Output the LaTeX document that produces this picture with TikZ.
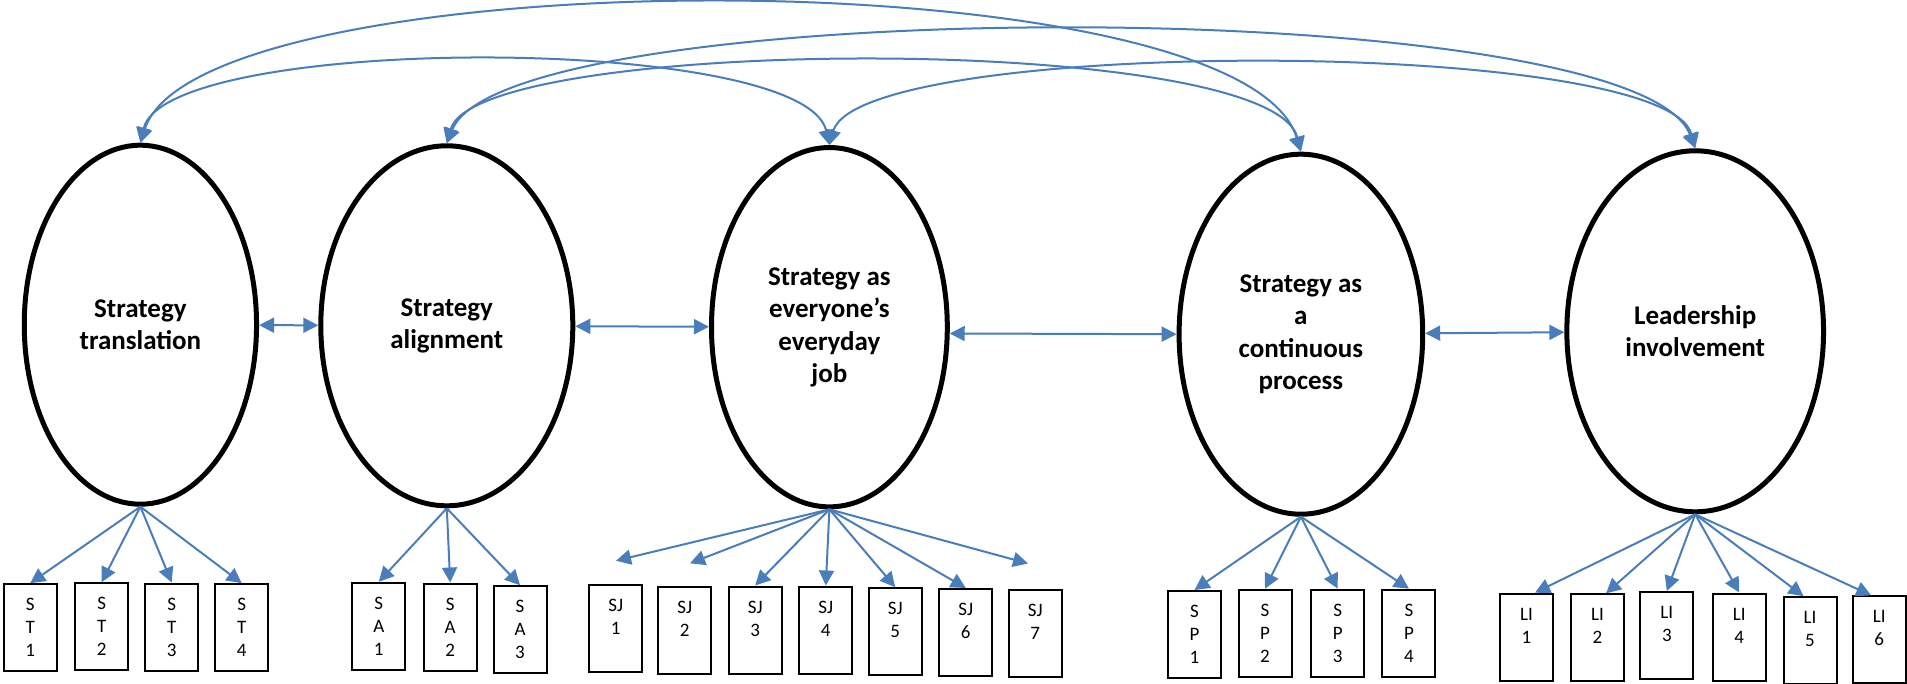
\documentclass[tikz,border=0pt]{standalone}
\usepackage{fontspec}
\setmainfont{Carlito}
\usetikzlibrary{shapes.geometric,arrows.meta}
\definecolor{arrowblue}{RGB}{74,126,187}
\tikzset{
  lat/.style={ellipse, draw=black, line width=5pt, inner sep=0pt, align=center,
    font=\fontsize{27}{32.5}\selectfont\bfseries},
  ind/.style={rectangle, draw=black, line width=2pt, minimum width=53pt, minimum height=87pt,
    inner sep=0pt, align=center, font=\fontsize{19}{23}\selectfont},
  link/.style={draw=arrowblue, line width=2pt, -{Triangle[length=15pt,width=15pt]}},
  dlink/.style={draw=arrowblue, line width=2pt,
    {Triangle[length=15pt,width=15pt]}-{Triangle[length=15pt,width=15pt]}}
}
\begin{document}
\begin{tikzpicture}[x=1pt,y=-1pt]
\useasboundingbox (0,0) rectangle (1907,684);

% latent constructs
\node[lat, minimum width=232.3pt, minimum height=359pt] (st) at (140.4,324.7) {Strategy\\translation};
\node[lat, minimum width=252pt, minimum height=360pt] (sa) at (446.8,325.8) {Strategy\\alignment};
\node[lat, minimum width=235.8pt, minimum height=359.3pt] (sj) at (829.4,327.2) {Strategy as\\everyone’s\\everyday\\job};
\node[lat, minimum width=243.6pt, minimum height=360pt] (sp) at (1300.9,334.2) {Strategy as\\a\\continuous\\process};
\node[lat, minimum width=256.7pt, minimum height=361pt] (li) at (1695.2,331.3) {Leadership\\involvement};

% indicators
\node[ind] (st1) at (30.2,627.7) {S\\T\\1};
\node[ind] (st2) at (101.7,626.7) {S\\T\\2};
\node[ind] (st3) at (171.7,627) {S\\T\\3};
\node[ind] (st4) at (241.7,627.7) {S\\T\\4};

\node[ind] (sa1) at (378.8,626.3) {S\\A\\1};
\node[ind] (sa2) at (450.2,627) {S\\A\\2};
\node[ind] (sa3) at (520,629.7) {S\\A\\3};

\node[ind] (sj1) at (615.8,628.8) {SJ\\1\\\phantom{1}};
\node[ind] (sj2) at (684.8,630) {SJ\\2\\\phantom{1}};
\node[ind] (sj3) at (755.2,630) {SJ\\3\\\phantom{1}};
\node[ind] (sj4) at (825.8,630) {SJ\\4\\\phantom{1}};
\node[ind] (sj5) at (895.2,631.7) {SJ\\5\\\phantom{1}};
\node[ind] (sj6) at (965.8,632.5) {SJ\\6\\\phantom{1}};
\node[ind] (sj7) at (1035.2,633.3) {SJ\\7\\\phantom{1}};

\node[ind] (sp1) at (1194.5,634.5) {S\\P\\1};
\node[ind] (sp2) at (1265,633.2) {S\\P\\2};
\node[ind] (sp3) at (1337.7,633.2) {S\\P\\3};
\node[ind] (sp4) at (1408.9,633.2) {S\\P\\4};

\node[ind] (li1) at (1526.5,637.2) {LI\\1\\\phantom{1}};
\node[ind] (li2) at (1597.5,637.9) {LI\\2\\\phantom{1}};
\node[ind] (li3) at (1666.8,635.5) {LI\\3\\\phantom{1}};
\node[ind] (li4) at (1739.2,637) {LI\\4\\\phantom{1}};
\node[ind] (li5) at (1810,640.7) {LI\\5\\\phantom{1}};
\node[ind] (li6) at (1879.2,639.9) {LI\\6\\\phantom{1}};

% free arrow ends
\coordinate (sjt1) at (616,560.7);
\coordinate (sjt2) at (690,563.3);
\coordinate (sjt7) at (1028,563.5);

% loadings
\foreach \i in {1,...,4} \draw[link] (st.south) -- (st\i.north);
\foreach \i in {1,...,3} \draw[link] (sa.south) -- (sa\i.north);
\draw[link] (sj.south) -- (sjt1);
\draw[link] (sj.south) -- (sjt2);
\foreach \i in {3,...,6} \draw[link] (sj.south) -- (sj\i.north);
\draw[link] (sj.south) -- (sjt7);
\foreach \i in {1,...,4} \draw[link] (sp.south) -- (sp\i.north);
\draw[link] (li.south) -- ([xshift=8.5pt]li1.north);
\draw[link] (li.south) -- ([xshift=8.5pt]li2.north);
\draw[link] (li.south) -- (li3.north);
\draw[link] (li.south) -- (li4.north);
\draw[link] (li.south) -- ([xshift=-6.5pt]li5.north);
\draw[link] (li.south) -- ([xshift=-8pt]li6.north);

% neighbouring correlations
\draw[dlink] (st) -- (sa);
\draw[dlink] (sa) -- (sj);
\draw[dlink] (sj.-3) -- (sp.west);
\draw[dlink] (sp) -- (li);

% long correlations
\draw[dlink] (st.north) .. controls +(60,-185) and +(-60,-197) .. (sp.north);
\draw[dlink] (st.north) .. controls +(25,-109) and +(-25,-112) .. (sj.north);
\draw[dlink] (sa.north) .. controls +(60,-150) and +(-60,-157) .. (li.north);
\draw[dlink] (sa.north) .. controls +(30,-108) and +(-30,-120) .. (sp.north);
\draw[dlink] (sj.north) .. controls +(30,-108) and +(-30,-112) .. (li.north);
\end{tikzpicture}
\end{document}
